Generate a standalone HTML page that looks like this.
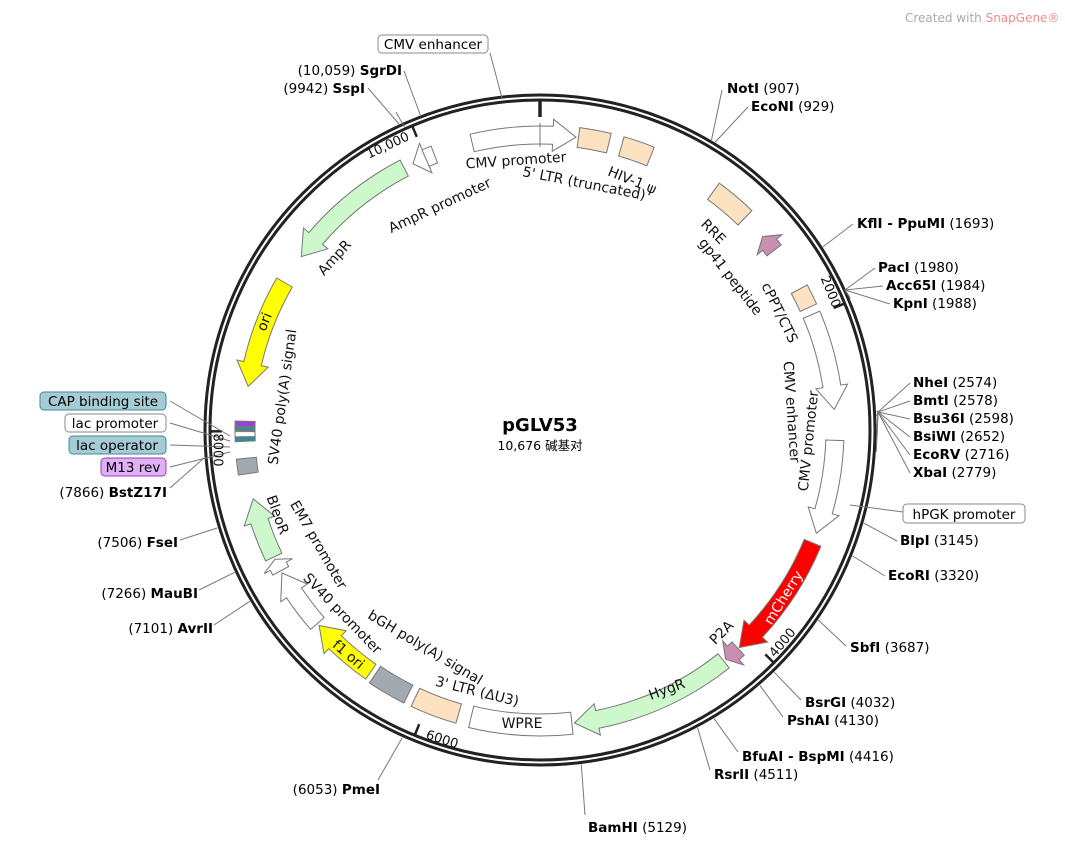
<!DOCTYPE html>
<html><head><meta charset="utf-8">
<style>
html,body{margin:0;padding:0;background:#fff;}
svg{display:block;font-family:"DejaVu Sans","Liberation Sans","Noto Sans CJK SC",sans-serif;}
.en{font-size:13.5px;}
.b{font-weight:bold;}
.fl{font-size:13.5px;}
</style></head><body>
<svg id="s" width="1065" height="847" viewBox="0 0 1065 847" xmlns="http://www.w3.org/2000/svg">
<text x="905" y="22" font-size="12" fill="#aaa">Created with <tspan fill="#f08a8a">SnapGene®</tspan></text>
<circle cx="540" cy="430" r="335" fill="none" stroke="#222" stroke-width="3"/>
<circle cx="540" cy="430" r="330" fill="none" stroke="#222" stroke-width="3"/>
<g id="feat"></g>
<g id="lines" stroke="#777" stroke-width="1" fill="none"></g>
<text x="540" y="431" text-anchor="middle" font-size="18" font-weight="bold">pGLV53</text>
<text x="540" y="450" text-anchor="middle" font-size="12.5" font-family="'DejaVu Sans','Noto Sans CJK SC',sans-serif">10,676 碱基对</text>

<rect x="378" y="35" width="110" height="18" rx="4" fill="#fff" stroke="#888"/>
<text x="433" y="49" text-anchor="middle" class="fl">CMV enhancer</text>
<rect x="903" y="504" width="122" height="19" rx="4" fill="#fff" stroke="#888"/>
<text x="964" y="519" text-anchor="middle" class="fl">hPGK promoter</text>
<rect x="40" y="392" width="126" height="18" rx="4" fill="#a5ccd4" stroke="#3a8a99"/>
<text x="103" y="406" text-anchor="middle" class="fl">CAP binding site</text>
<rect x="65" y="414" width="101" height="18" rx="4" fill="#fff" stroke="#888"/>
<text x="115" y="428" text-anchor="middle" class="fl">lac promoter</text>
<rect x="69" y="436" width="97" height="18" rx="4" fill="#a5ccd4" stroke="#3a8a99"/>
<text x="117" y="450" text-anchor="middle" class="fl">lac operator</text>
<rect x="101" y="458" width="65" height="18" rx="4" fill="#e0b0f5" stroke="#9a3ac0"/>
<text x="133" y="472" text-anchor="middle" class="fl">M13 rev</text>

<g class="en">
<text x="727" y="93"><tspan class="b">NotI</tspan>  (907)</text>
<text x="751" y="111"><tspan class="b">EcoNI</tspan>  (929)</text>
<text x="857" y="228"><tspan class="b">KflI - PpuMI</tspan>  (1693)</text>
<text x="878" y="272"><tspan class="b">PacI</tspan>  (1980)</text>
<text x="886" y="290"><tspan class="b">Acc65I</tspan>  (1984)</text>
<text x="893" y="308"><tspan class="b">KpnI</tspan>  (1988)</text>
<text x="913" y="387"><tspan class="b">NheI</tspan>  (2574)</text>
<text x="913" y="405"><tspan class="b">BmtI</tspan>  (2578)</text>
<text x="913" y="423"><tspan class="b">Bsu36I</tspan>  (2598)</text>
<text x="913" y="441"><tspan class="b">BsiWI</tspan>  (2652)</text>
<text x="913" y="459"><tspan class="b">EcoRV</tspan>  (2716)</text>
<text x="913" y="477"><tspan class="b">XbaI</tspan>  (2779)</text>
<text x="900" y="545"><tspan class="b">BlpI</tspan>  (3145)</text>
<text x="888" y="580"><tspan class="b">EcoRI</tspan>  (3320)</text>
<text x="850" y="652"><tspan class="b">SbfI</tspan>  (3687)</text>
<text x="805" y="707"><tspan class="b">BsrGI</tspan>  (4032)</text>
<text x="787" y="725"><tspan class="b">PshAI</tspan>  (4130)</text>
<text x="742" y="761"><tspan class="b">BfuAI - BspMI</tspan>  (4416)</text>
<text x="714" y="779"><tspan class="b">RsrII</tspan>  (4511)</text>
<text x="588" y="832"><tspan class="b">BamHI</tspan>  (5129)</text>
<text x="380" y="794" text-anchor="end">(6053)  <tspan class="b">PmeI</tspan></text>
<text x="213" y="633" text-anchor="end">(7101)  <tspan class="b">AvrII</tspan></text>
<text x="198" y="598" text-anchor="end">(7266)  <tspan class="b">MauBI</tspan></text>
<text x="178" y="547" text-anchor="end">(7506)  <tspan class="b">FseI</tspan></text>
<text x="167" y="497" text-anchor="end">(7866)  <tspan class="b">BstZ17I</tspan></text>
<text x="365" y="93" text-anchor="end">(9942)  <tspan class="b">SspI</tspan></text>
<text x="402" y="75" text-anchor="end">(10,059)  <tspan class="b">SgrDI</tspan></text>
</g>
<g id="flab"></g>
</svg>
<script>
var cx=540,cy=430,N=10676,S=document.getElementById('s');
function pt(r,a){a=a*Math.PI/180;return [cx+r*Math.sin(a),cy-r*Math.cos(a)];}
function P(p){return p[0].toFixed(1)+' '+p[1].toFixed(1);}
function arcPath(a1,a2,r1,r2){var l=(a2-a1)>180?1:0;
 return 'M'+P(pt(r2,a1))+' A'+r2+' '+r2+' 0 '+l+' 1 '+P(pt(r2,a2))+' L'+P(pt(r1,a2))+' A'+r1+' '+r1+' 0 '+l+' 0 '+P(pt(r1,a1))+'Z';}
var F=document.getElementById('feat');
function add(par,tag,at){var e=document.createElementNS('http://www.w3.org/2000/svg',tag);for(var k in at)e.setAttribute(k,at[k]);par.appendChild(e);return e;}
var R=295;
function box(a1,a2,fill,w){w=w||10;add(F,'path',{d:arcPath(a1,a2,R-w,R+w),fill:fill,stroke:'#777','stroke-width':1});}
function arrow(a1,a2,dir,fill){var hl=Math.min(4.5,(a2-a1)*0.6),w=9,hw=16,d;
 if(dir>0){var b=a2-hl;d='M'+P(pt(R+w,a1))+' A'+(R+w)+' '+(R+w)+' 0 0 1 '+P(pt(R+w,b))+' L'+P(pt(R+hw,b))+' L'+P(pt(R,a2))+' L'+P(pt(R-hw,b))+' L'+P(pt(R-w,b))+' A'+(R-w)+' '+(R-w)+' 0 0 0 '+P(pt(R-w,a1))+'Z';}
 else{var b=a1+hl;d='M'+P(pt(R+w,a2))+' A'+(R+w)+' '+(R+w)+' 0 0 0 '+P(pt(R+w,b))+' L'+P(pt(R+hw,b))+' L'+P(pt(R,a1))+' L'+P(pt(R-hw,b))+' L'+P(pt(R-w,b))+' A'+(R-w)+' '+(R-w)+' 0 0 1 '+P(pt(R-w,a2))+'Z';}
 add(F,'path',{d:d,fill:fill,stroke:'#777','stroke-width':1});}
var peach='#fde2c2',green='#ccf8cc',gray='#a3a9b0',pink='#c98fb0';
arrow(-13.3,7,1,'#fff');
add(F,'line',{x1:540,y1:123,x2:540,y2:147,stroke:'#777'});
box(7.5,13.5,peach);box(16,22,peach);box(36,44,peach);
arrow(49,52.5,-1,pink);box(61.5,65.5,peach,9);
arrow(67,86,1,'#fff');arrow(92,110.5,1,'#fff');
arrow(112.5,137.5,1,'#f00');arrow(137.8,141,1,pink);
arrow(141.5,173.3,1,green);
box(173.8,193.5,'#fff',11);box(196,205,peach);box(206.5,214,gray);
arrow(215,228.5,1,'#ff0');arrow(229,241,1,'#fff');arrow(241.5,244,1,'#fff');
arrow(244.5,256.5,1,green);
box(261.5,264.5,gray);
arrow(278.5,300,-1,'#ff0');arrow(306,332.6,-1,green);arrow(334.5,339,-1,'#fff');
[[268.3,'#3a8a99'],[269.2,'#fff'],[270.4,'#3a8a99'],[271.2,'#a040d0']].forEach(function(m){box(m[0]-0.5,m[0]+0.5,m[1],10);});
var T=[[0,''],[2000,'2000'],[4000,'4000'],[6000,'6000'],[8000,'8000'],[10000,'10,000']];
T.forEach(function(t){var a=t[0]/N*360;add(F,'line',{x1:pt(329,a)[0],y1:pt(329,a)[1],x2:pt(a==0?313:318,a)[0],y2:pt(a==0?313:318,a)[1],stroke:'#222','stroke-width':a==0?3.5:2.5});});
var FL=document.getElementById('flab');
function lab(x,y,r,t,c,fs){var e=add(FL,'text',{x:x,y:y,'text-anchor':'middle','dominant-baseline':'central',transform:'rotate('+r+' '+x+' '+y+')',fill:c||'#111','font-size':fs||14});e.textContent=t;}
lab(388,146,-25,'10,000','#111',13);lab(830,292,68,'2000','#111',13);lab(783,643,-50,'4000','#111',13);lab(442,740,18,'6000','#111',13);lab(217,450,90,'8000','#111',13);
lab(516,161,-4,'CMV promoter');lab(584,184,11,"5' LTR (truncated)");lab(632,181,22,'HIV-1 ψ');
lab(713,232,45,'RRE');lab(730,277,52,'gp41 peptide');lab(779,313,64,'cPPT/CTS');
lab(791,412,86,'CMV enhancer');lab(809,441,-84,'CMV promoter');
lab(784,598,-58,'mCherry','#fff');lab(722,633,-45,'P2A');lab(667,690,-20,'HygR');
lab(522,724,0,'WPRE');lab(477,692,14,"3' LTR (ΔU3)");lab(425,648,31,'bGH poly(A) signal');
lab(348,655,40,'f1 ori');lab(342,614,46,'SV40 promoter');lab(318,545,60,'EM7 promoter');lab(277,515,70,'BleoR');
lab(283,397,-82,'SV40 poly(A) signal');lab(265,322,-68,'ori');lab(335,258,-48,'AmpR');lab(440,206,-25,'AmpR promoter');
var L=document.getElementById('lines');
function ld(p,x,y,x2,y2){var a=p/N*360,s=pt(337,a),d='M'+P(s)+' L'+x+' '+y;if(x2!==undefined)d+=' L'+x2+' '+y2;add(L,'path',{d:d});}
ld(907,722,90);ld(929,748,107);ld(1693,853,224);
ld(1980,845,290,875,268);ld(1984,845,290,883,286);ld(1988,845,290,890,304);
ld(2574,878,412,910,383);ld(2578,878,412,910,401);ld(2598,878,412,910,419);ld(2652,878,412,910,437);ld(2716,878,412,910,455);ld(2779,878,412,910,473);
ld(3145,897,541);ld(3320,885,576);ld(3687,846,646);ld(4032,801,700);ld(4130,783,717);ld(4416,738,752);ld(4511,710,770);
ld(5129,585,815);ld(6053,378,780);ld(7101,214,625);ld(7266,199,590);ld(7506,180,540);ld(7866,170,488);
ld(9942,368,88);ld(10059,404,71);
add(L,'path',{d:'M502 98 L490 53'});add(L,'path',{d:'M850 505 L903 512'});
add(L,'path',{d:'M230 436 L170 401'});add(L,'path',{d:'M230 441 L170 423'});add(L,'path',{d:'M230 447 L170 445'});add(L,'path',{d:'M230 452 L170 467'});
add(L,'path',{d:'M396 112 L405 128'});add(L,'path',{d:'M430 168 L422 150'});
</script>
</body></html>
